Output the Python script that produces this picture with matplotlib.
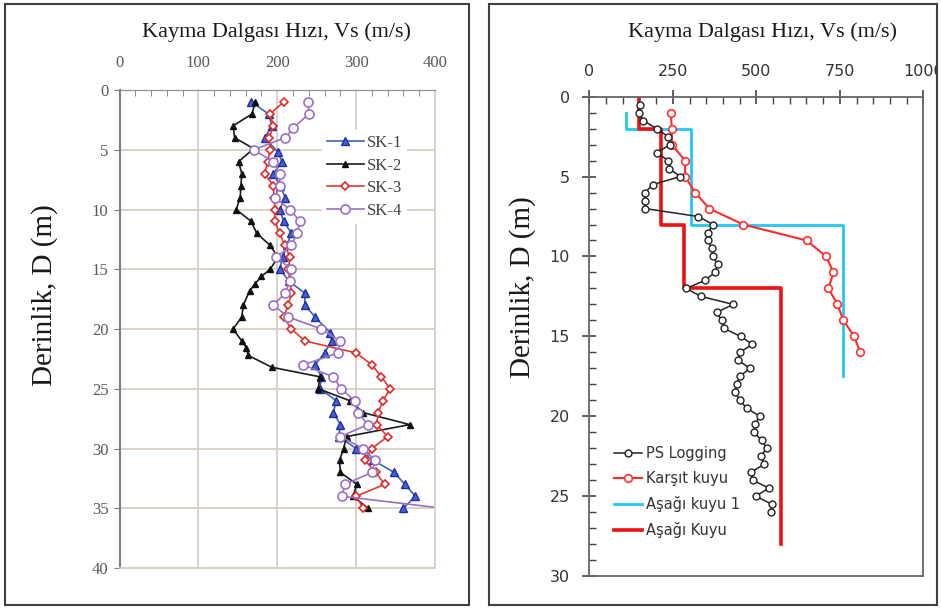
import matplotlib
matplotlib.use('Agg')
import matplotlib.pyplot as plt
from matplotlib.patches import Rectangle
from matplotlib.ticker import MultipleLocator

# sol grafik - SK kuyulari
sk1_d = [1, 2, 3, 4, 5.2, 6, 7, 8, 9, 10, 11, 12, 13, 14, 15, 16, 17, 18, 19, 20.3,
         21, 22, 23, 24, 25, 26, 27, 28, 29, 30, 31, 32, 33, 34, 35]
sk1_v = [167, 189, 193, 184, 201, 206, 195, 204, 210, 203, 208, 218, 212, 207, 203, 215, 235, 235, 248, 267,
         269, 260, 248, 256, 254, 275, 271, 280, 278, 300, 322, 348, 362, 375, 360]

sk2_d = [1, 2, 3, 4, 4.9, 6, 7, 8, 9, 10, 11, 12, 13, 14, 15, 15.6, 16.2, 16.8, 18, 19,
         20, 21, 21.6, 22.2, 23.2, 24, 25, 26, 27, 28, 29, 30, 31, 32, 33, 34, 35]
sk2_v = [172, 168, 144, 146, 170, 151, 155, 154, 153, 148, 167, 174, 191, 201, 191, 180, 172, 165, 157, 155,
         144, 155, 161, 163, 193, 254, 252, 292, 309, 368, 288, 284, 279, 280, 301, 296, 315]

sk3_d = [1, 2, 3, 4, 5, 6, 7, 8, 9, 10, 11, 12, 13, 14, 15, 16, 17, 18, 19, 20,
         21, 22, 23, 24, 25, 26, 27, 28, 29, 30, 31, 32, 33, 34, 35]
sk3_v = [208, 191, 195, 190, 191, 188, 184, 195, 196, 197, 197, 203, 210, 216, 214, 216, 218, 214, 208, 218,
         235, 300, 320, 332, 343, 334, 328, 326, 340, 320, 311, 325, 336, 300, 309]

sk4_d = [1, 2, 3.2, 4, 5, 6, 7, 8, 9, 10, 11, 12, 13, 14, 15, 16, 17, 18, 19, 20,
         21, 22, 23, 24, 25, 26, 27, 28, 29, 30, 31, 32, 33, 34, 35]
sk4_v = [239, 240, 220, 210, 170, 195, 203, 203, 197, 216, 229, 225, 218, 199, 218, 216, 210, 195, 214, 256,
         279, 277, 233, 271, 281, 298, 302, 315, 280, 309, 324, 320, 286, 282, 410]

# sag grafik
ps_d = [0.5, 1, 1.5, 2, 2.5, 3, 3.5, 4, 4.5, 5, 5.5, 6, 6.5, 7, 7.5, 8, 8.5, 9, 9.5, 10,
        10.5, 11, 11.5, 12, 12.5, 13, 13.5, 14, 14.5, 15, 15.5, 16, 16.5, 17, 17.5, 18,
        18.5, 19, 19.5, 20, 20.5, 21, 21.5, 22, 22.5, 23, 23.5, 24, 24.5, 25, 25.5, 26]
ps_v = [152, 150, 162, 202, 236, 242, 202, 236, 240, 272, 190, 167, 167, 167, 326, 371, 356, 356, 366, 371,
        384, 376, 346, 290, 334, 431, 381, 396, 403, 453, 488, 451, 446, 481, 451, 441,
        436, 451, 471, 511, 496, 493, 516, 531, 514, 524, 484, 489, 538, 498, 546, 543]

kk_d = [1, 2, 3, 4, 5, 6, 7, 8, 9, 10, 11, 12, 13, 14, 15, 16]
kk_v = [244, 247, 247, 287, 287, 317, 359, 461, 651, 709, 731, 716, 743, 761, 793, 811]

# katmanli profiller: ust derinlik, alt derinlik, hiz
ak1_top = [1, 2, 8]
ak1_bot = [2, 8, 17.5]
ak1_v = [110, 305, 760]

ak_top = [0, 2, 8, 12]
ak_bot = [2, 8, 12, 28]
ak_v = [150, 215, 285, 575]

title = 'Kayma Dalgası Hızı, Vs (m/s)'
ylab = 'Derinlik, D (m)'

W, H = 941, 610


def box(x0, y0, x1, y1):
    return [x0 / W, 1 - y1 / H, (x1 - x0) / W, (y1 - y0) / H]


def steps(top, bot, v):
    xs, ys = [], []
    for t, b, s in zip(top, bot, v):
        xs += [s, s]
        ys += [t, b]
    return xs, ys


fig = plt.figure(figsize=(W / 100, H / 100), dpi=100)
fig.patch.set_facecolor('white')

serif = 'Liberation Serif'
sans = 'DejaVu Sans'

# ---- sol ----
ax1 = fig.add_axes(box(119.5, 90, 435, 568))
ax1.set_xlim(0, 400)
ax1.set_ylim(40, 0)
ax1.xaxis.tick_top()
ax1.xaxis.set_major_locator(MultipleLocator(100))
ax1.xaxis.set_minor_locator(MultipleLocator(20))
ax1.yaxis.set_major_locator(MultipleLocator(5))
ax1.grid(True, which='major', color='#d6d0c2', lw=1.3)
ax1.set_axisbelow(True)
for s in ['right', 'bottom']:
    ax1.spines[s].set_color('#d6d0c2')
    ax1.spines[s].set_linewidth(1.3)
ax1.spines['left'].set_color('#7f7f7f')
ax1.spines['left'].set_linewidth(1.5)
ax1.spines['top'].set_color('#8c8c8c')
ax1.tick_params(axis='x', which='major', length=0, pad=13.5, labelsize=12, labelcolor='#595959')
ax1.tick_params(axis='x', which='minor', direction='in', length=4, color='#7f7f7f')
ax1.tick_params(axis='y', which='major', direction='out', length=4, color='#7f7f7f',
                pad=4, labelsize=12, labelcolor='#595959')
for lab in ax1.get_xticklabels() + ax1.get_yticklabels():
    lab.set_family(serif)

ax1.plot(sk1_v, sk1_d, color='#3f63b0', lw=1.2, marker='^', ms=6,
         mfc='#4a5fd0', mec='#1c2fa0', mew=1.0, label='SK-1')
ax1.plot(sk2_v, sk2_d, color='#1a1a1a', lw=1.2, marker='^', ms=5,
         mfc='#111111', mec='#111111', label='SK-2')
ax1.plot(sk3_v, sk3_d, color='#e03a30', lw=1.2, marker='D', ms=4.5,
         mfc='white', mec='#e02a2a', mew=1.2, label='SK-3')
ax1.plot(sk4_v, sk4_d, color='#9a70c4', lw=1.2, marker='o', ms=6.5,
         mfc='white', mec='#9a70c4', mew=1.2, label='SK-4')

leg1 = ax1.legend(loc='upper left', bbox_to_anchor=((322 - 119.5) / 315.5, (568 - 130) / 478),
                  prop={'family': serif, 'size': 12}, frameon=True, fancybox=False,
                  handlelength=2.2, handletextpad=0.2, labelspacing=0.4,
                  borderpad=0.3, borderaxespad=0)
leg1.get_frame().set_edgecolor('none')
leg1.get_frame().set_alpha(1)
for t in leg1.get_texts():
    t.set_color('#404040')

fig.text(277 / W, 1 - 32 / H, title, family=serif, size=16, ha='center', va='center', color='#1a1a1a')
fig.text(45 / W, 1 - 295 / H, ylab, family=serif, size=21, rotation=90,
         ha='center', va='center', color='#1a1a1a')

# ---- sag ----
ax2 = fig.add_axes(box(589.3, 96.7, 923.3, 576))
ax2.set_xlim(0, 1000)
ax2.set_ylim(30, 0)
ax2.xaxis.tick_top()
ax2.xaxis.set_major_locator(MultipleLocator(250))
ax2.xaxis.set_minor_locator(MultipleLocator(50))
ax2.yaxis.set_major_locator(MultipleLocator(5))
ax2.yaxis.set_minor_locator(MultipleLocator(1))
for s in ax2.spines.values():
    s.set_color('#666666')
    s.set_linewidth(1.3)
ax2.tick_params(axis='both', which='major', direction='inout', length=10, width=1.2,
                color='#444444', labelsize=11.5, labelcolor='#333333')
ax2.tick_params(axis='x', which='major', pad=8)
ax2.tick_params(axis='y', which='major', pad=9)
ax2.tick_params(axis='both', which='minor', direction='in', length=5, width=1.0, color='#444444')
for lab in ax2.get_xticklabels() + ax2.get_yticklabels():
    lab.set_family(sans)

ax2.plot(ps_v, ps_d, color='#222222', lw=1.1, marker='o', ms=5,
         mfc='white', mec='#222222', mew=1.0, label='PS Logging', zorder=4)
ax2.plot(kk_v, kk_d, color='#ff2a2a', lw=1.5, marker='o', ms=5.5,
         mfc='white', mec='#ff3030', mew=1.2, label='Karşıt kuyu', zorder=3)
x1, y1 = steps(ak1_top, ak1_bot, ak1_v)
ax2.plot(x1, y1, color='#22c8f5', lw=2, label='Aşağı kuyu 1', zorder=2)
x2, y2 = steps(ak_top, ak_bot, ak_v)
ax2.plot(x2, y2, color='#ee1111', lw=2.6, label='Aşağı Kuyu', zorder=2)

leg2 = ax2.legend(loc='upper left', bbox_to_anchor=((614 - 589.3) / 334, (576 - 446) / 479.3),
                  prop={'family': sans, 'size': 10.5}, frameon=False,
                  handlelength=1.9, handletextpad=0.3, labelspacing=0.68,
                  borderpad=0, borderaxespad=0)
for t in leg2.get_texts():
    t.set_color('#333333')

fig.text(762 / W, 1 - 32 / H, title, family=serif, size=16, ha='center', va='center', color='#1a1a1a')
fig.text(523 / W, 1 - 287 / H, ylab, family=serif, size=21, rotation=90,
         ha='center', va='center', color='#1a1a1a')

# panel cerceveleri
fig.add_artist(Rectangle((937 / W, 0), 4 / W, 1, transform=fig.transFigure,
                         facecolor='white', edgecolor='none', zorder=9))
for x0, y0, xe, ye in [(5, 4, 469, 605), (489, 4, 937, 605)]:
    fig.add_artist(Rectangle((x0 / W, 1 - ye / H), (xe - x0) / W, (ye - y0) / H,
                             transform=fig.transFigure, fill=False,
                             edgecolor='#404040', lw=1.5, zorder=10))

fig.savefig('out.png', dpi=100)
